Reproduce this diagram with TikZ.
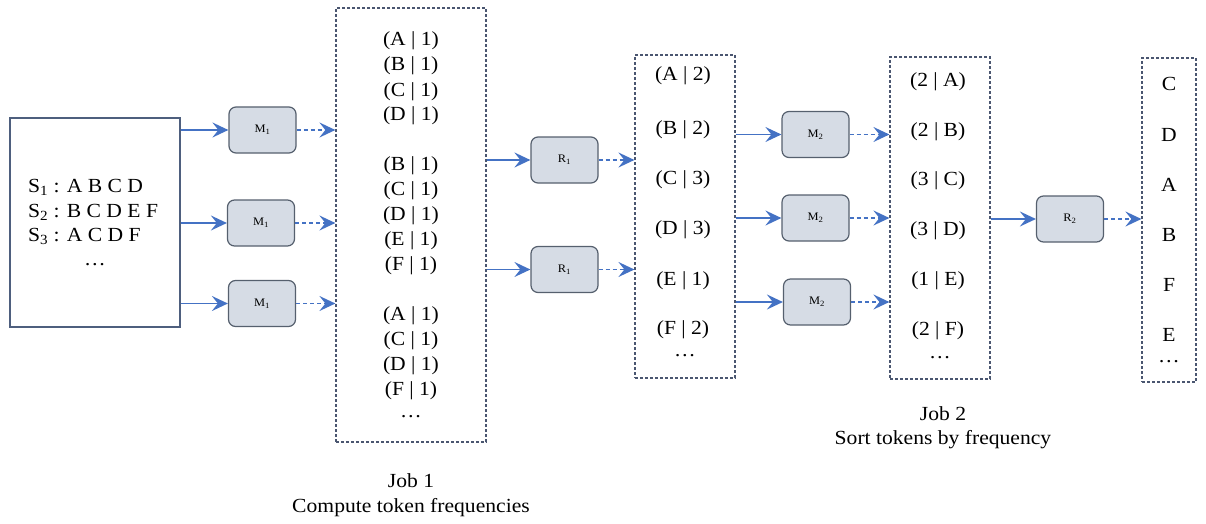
\documentclass[tikz,border=0pt]{standalone}
\usepackage{fontspec}
\setmainfont[FakeStretch=1.08]{Liberation Serif}
\usetikzlibrary{arrows.meta}
\definecolor{arr}{HTML}{4472C4}
\definecolor{bord}{HTML}{4A5670}
\definecolor{nfill}{HTML}{D6DCE5}
\definecolor{nbord}{HTML}{56606E}
\definecolor{ibord}{HTML}{4E5F7E}
\tikzset{
  proc/.style={draw=nbord,line width=1.2pt,fill=nfill,rounded corners=7pt,minimum width=67pt,minimum height=46pt,inner sep=0pt,font=\fontsize{11.5}{13}\selectfont},
  dbox/.style={draw=bord,dash pattern=on 3pt off 2pt,line width=1.2pt,inner sep=0pt},
  ibox/.style={draw=ibord,line width=1.2pt,inner sep=0pt},
  solidarr/.style={draw=arr,line width=1.8pt,-{Stealth[length=16pt,width=15pt,inset=6pt]}},
  dasharr/.style={draw=arr,line width=1.8pt,dash pattern=on 4pt off 3pt,-{Stealth[length=16pt,width=15pt,inset=6pt]}},
  itm/.style={font=\fontsize{20}{24}\selectfont,inner sep=0pt,anchor=base},
  lbl/.style={font=\fontsize{20}{24}\selectfont,inner sep=0pt,anchor=base}
}
\begin{document}
\begin{tikzpicture}[x=1pt,y=-1pt]
\useasboundingbox (0,0) rectangle (1206,524);
% input box
\node[ibox,minimum width=170pt,minimum height=209pt] (in) at (95,222.5) {};
\node[itm,anchor=base west] (s1) at (28,192) {S\textsubscript{1} : A B C D};
\node[itm,anchor=base west] (s2) at (28,217) {S\textsubscript{2} : B C D E F};
\node[itm,anchor=base west] (s3) at (28,241) {S\textsubscript{3} : A C D F};
\node[itm] (indots) at (95,265) {…};
% M1
\node[proc] (m1a) at (262.5,130) {M\textsubscript{1}};
\node[proc] (m1b) at (261,223) {M\textsubscript{1}};
\node[proc] (m1c) at (262,303.5) {M\textsubscript{1}};
% box1
\node[dbox,minimum width=150pt,minimum height=434pt] (b1) at (411,225) {};
\foreach \t/\y [count=\i] in {A/46,B/71,C/96,D/121,B/170,C/195,D/220,E/245,F/270,A/320,C/345,D/370,F/395}
  \node[itm] (b1t\i) at (411,\y) {(\t{} | 1)};
\node[itm] (b1dots) at (411,417) {…};
% R1
\node[proc] (r1a) at (564.5,160) {R\textsubscript{1}};
\node[proc] (r1b) at (564.5,269.5) {R\textsubscript{1}};
% box2
\node[dbox,minimum width=100pt,minimum height=323pt] (b2) at (685,216.5) {};
\foreach \t/\n/\y [count=\i] in {A/2/81,B/2/134,C/3/184,D/3/234,E/1/285,F/2/334}
  \node[itm] (b2t\i) at (683,\y) {(\t{} | \n)};
\node[itm] (b2dots) at (685,356) {…};
% M2
\node[proc] (m2a) at (815.5,134.5) {M\textsubscript{2}};
\node[proc] (m2b) at (815.5,218) {M\textsubscript{2}};
\node[proc] (m2c) at (817,302) {M\textsubscript{2}};
% box3
\node[dbox,minimum width=100pt,minimum height=322pt] (b3) at (940,218) {};
\foreach \n/\t/\y [count=\i] in {2/A/87,2/B/136,3/C/185,3/D/235,1/E/285,2/F/335}
  \node[itm] (b3t\i) at (938,\y) {(\n{} | \t)};
\node[itm] (b3dots) at (940,358) {…};
% R2
\node[proc] (r2) at (1070,219) {R\textsubscript{2}};
% box4
\node[dbox,minimum width=54pt,minimum height=324pt] (b4) at (1169,220) {};
\foreach \t/\y [count=\i] in {C/91,D/141,A/191,B/241,F/291,E/341}
  \node[itm] (b4t\i) at (1169,\y) {\t};
\node[itm] (b4dots) at (1169,362) {…};
% labels
\node[lbl] (j1) at (411,487) {Job 1};
\node[lbl] (j1b) at (411,512) {Compute token frequencies};
\node[lbl] (j2) at (943,420) {Job 2};
\node[lbl] (j2b) at (943,444) {Sort tokens by frequency};
% arrows
\foreach \m in {m1a,m1b,m1c}{
  \draw[solidarr] (in.east |- \m.west) -- (\m.west);
  \draw[dasharr] (\m.east) -- (b1.west |- \m.east);
}
\foreach \m in {r1a,r1b}{
  \draw[solidarr] (b1.east |- \m.west) -- (\m.west);
  \draw[dasharr] (\m.east) -- (b2.west |- \m.east);
}
\foreach \m in {m2a,m2b,m2c}{
  \draw[solidarr] (b2.east |- \m.west) -- (\m.west);
  \draw[dasharr] (\m.east) -- (b3.west |- \m.east);
}
\draw[solidarr] (b3.east |- r2.west) -- (r2.west);
\draw[dasharr] (r2.east) -- (b4.west |- r2.east);
\end{tikzpicture}
\end{document}
